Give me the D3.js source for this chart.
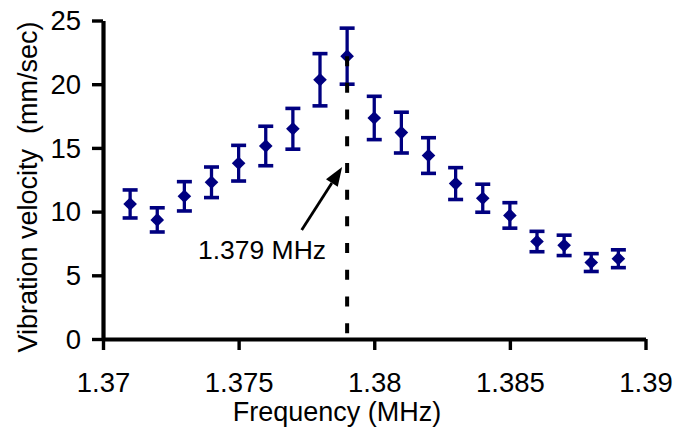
<!DOCTYPE html>
<html>
<head>
<meta charset="utf-8">
<script src="https://cdn.jsdelivr.net/npm/d3@7"></script>
<style>
  html, body { margin: 0; padding: 0; background: #fff; }
  svg { display: block; }
  text { font-family: "Liberation Sans", Arial, sans-serif; fill: #000; }
</style>
</head>
<body>
<div id="chart"></div>
<script>
// ---- data ----
const frequencies = [1.371, 1.372, 1.373, 1.374, 1.375, 1.376, 1.377, 1.378, 1.379, 1.380,
                     1.381, 1.382, 1.383, 1.384, 1.385, 1.386, 1.387, 1.388, 1.389];
const velocities  = [10.6, 9.35, 11.2, 12.3, 13.8, 15.15, 16.5, 20.35, 22.2, 17.35,
                     16.2, 14.4, 12.2, 11.05, 9.7, 7.65, 7.35, 6.0, 6.3];
const errors      = [1.1, 0.95, 1.15, 1.2, 1.4, 1.55, 1.6, 2.05, 2.2, 1.7,
                     1.6, 1.4, 1.25, 1.1, 1.0, 0.8, 0.8, 0.7, 0.7];
const xTicks = [1.37, 1.375, 1.38, 1.385, 1.39];
const xTickLabels = ["1.37", "1.375", "1.38", "1.385", "1.39"];
const yTicks = [0, 5, 10, 15, 20, 25];
const yTickLabels = ["0", "5", "10", "15", "20", "25"];
const resonance = 1.379;
const resonanceValue = 22.2;
const annotationText = "1.379 MHz";
const xTitle = "Frequency (MHz)";
const yTitle = "Vibration velocity  (mm/sec)";

// ---- layout ----
const W = 690, H = 430;
const svg = d3.select("#chart").append("svg").attr("width", W).attr("height", H);

const x = d3.scaleLinear().domain([1.37, 1.39]).range([103, 645.5]);
const y = d3.scaleLinear().domain([0, 25]).range([339, 20.5]);
const navy = "#000080";
const tickFont = 27.5;

// x axis
const xAxis = svg.append("g")
  .attr("transform", `translate(0,${y(0)})`)
  .call(d3.axisBottom(x).tickValues(xTicks)
        .tickFormat((d, i) => xTickLabels[i])
        .tickSizeInner(11).tickSizeOuter(0).tickPadding(22));
xAxis.select(".domain").attr("stroke", "#000").attr("stroke-width", 4.2);
xAxis.selectAll(".tick line").attr("stroke", "#000").attr("stroke-width", 3.4);
xAxis.selectAll(".tick text").attr("font-size", tickFont)
  .attr("font-family", "Liberation Sans, Arial, sans-serif").attr("fill", "#000");

// y axis
const yAxis = svg.append("g")
  .attr("transform", `translate(${x(1.37)},0)`)
  .call(d3.axisLeft(y).tickValues(yTicks)
        .tickFormat((d, i) => yTickLabels[i])
        .tickSizeInner(11).tickSizeOuter(0).tickPadding(11));
yAxis.select(".domain").attr("stroke", "#000").attr("stroke-width", 4.2);
yAxis.selectAll(".tick line").attr("stroke", "#000").attr("stroke-width", 3.4);
yAxis.selectAll(".tick text").attr("font-size", tickFont)
  .attr("font-family", "Liberation Sans, Arial, sans-serif").attr("fill", "#000")
  .attr("dy", "0.34em");

// axis titles
svg.append("text")
  .attr("x", 337).attr("y", 421)
  .attr("text-anchor", "middle")
  .attr("font-size", 27)
  .text(xTitle);

svg.append("text")
  .attr("transform", `translate(37,187) rotate(-90)`)
  .attr("text-anchor", "middle")
  .attr("font-size", 27)
  .style("white-space", "pre")
  .text(yTitle);

// data
const data = frequencies.map((f, i) => ({ f, v: velocities[i], e: errors[i] }));
const capHalf = 7.5;
const g = svg.append("g");
const pts = g.selectAll("g.pt").data(data).join("g").attr("class", "pt");
pts.append("line")
  .attr("x1", d => x(d.f)).attr("x2", d => x(d.f))
  .attr("y1", d => y(d.v + d.e)).attr("y2", d => y(d.v - d.e))
  .attr("stroke", navy).attr("stroke-width", 3.3);
pts.append("line")
  .attr("x1", d => x(d.f) - capHalf).attr("x2", d => x(d.f) + capHalf)
  .attr("y1", d => y(d.v + d.e)).attr("y2", d => y(d.v + d.e))
  .attr("stroke", navy).attr("stroke-width", 3.6);
pts.append("line")
  .attr("x1", d => x(d.f) - capHalf).attr("x2", d => x(d.f) + capHalf)
  .attr("y1", d => y(d.v - d.e)).attr("y2", d => y(d.v - d.e))
  .attr("stroke", navy).attr("stroke-width", 3.6);
pts.append("path")
  .attr("d", d3.symbol(d3.symbolDiamond2, 118)())
  .attr("transform", d => `translate(${x(d.f)},${y(d.v)})`)
  .attr("fill", navy);

// dashed resonance line
svg.append("line")
  .attr("x1", x(resonance)).attr("x2", x(resonance))
  .attr("y1", y(resonanceValue)).attr("y2", y(0))
  .attr("stroke", "#000").attr("stroke-width", 4)
  .attr("stroke-dasharray", "10,16.7");

// arrow annotation
const tip = [x(resonance) - 5, y(13.5)];
const tail = [301.7, 230];
const ang = Math.atan2(tip[1] - tail[1], tip[0] - tail[0]);
const headLen = 19, headHalf = 7;
const bx = tip[0] - headLen * Math.cos(ang), by = tip[1] - headLen * Math.sin(ang);
svg.append("line")
  .attr("x1", tail[0]).attr("y1", tail[1]).attr("x2", bx).attr("y2", by)
  .attr("stroke", "#000").attr("stroke-width", 2.8);
svg.append("path")
  .attr("d", d3.line()([
    tip,
    [bx + headHalf * Math.sin(ang), by - headHalf * Math.cos(ang)],
    [bx - headHalf * Math.sin(ang), by + headHalf * Math.cos(ang)]
  ]) + "Z")
  .attr("fill", "#000");

svg.append("text")
  .attr("x", 262).attr("y", 259)
  .attr("text-anchor", "middle")
  .attr("font-size", 26.5)
  .text(annotationText);
</script>
</body>
</html>
